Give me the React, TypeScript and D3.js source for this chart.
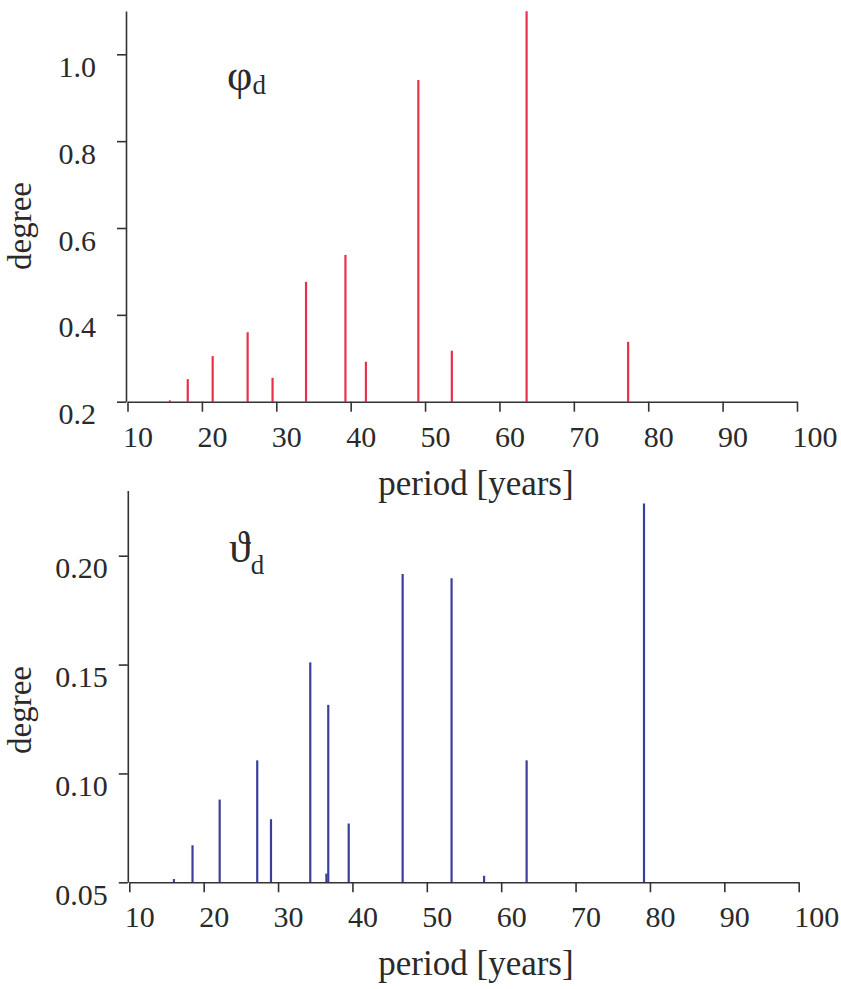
import React, {useRef, useEffect} from 'react';
import * as d3 from 'd3';

// 週期 (年) 與振幅 (度)
const phiPeriods = [15.7, 18.1, 21.45, 26.15, 29.5, 34.0, 39.3, 42.05, 49.1, 53.6, 63.65, 77.3];
const phiAmps = [0.203, 0.252, 0.305, 0.36, 0.255, 0.476, 0.538, 0.292, 0.941, 0.3175, 1.099, 0.338];

const thetaPeriods = [16.0, 18.5, 22.15, 27.2, 29.05, 34.33, 36.5, 36.75, 39.5, 46.75, 53.33, 57.7, 63.42, 79.2];
const thetaAmps = [0.0515, 0.067, 0.088, 0.106, 0.079, 0.151, 0.054, 0.1315, 0.077, 0.1916, 0.1896, 0.053, 0.106, 0.224];

const xTicks = [10, 20, 30, 40, 50, 60, 70, 80, 90, 100];
const phiTicks = [0.2, 0.4, 0.6, 0.8, 1.0];
const thetaTicks = [0.05, 0.10, 0.15, 0.20];

const W = 841;
const H = 989;
const FONT = '"Liberation Serif", "Times New Roman", serif';

interface PanelOpts {
    periods: number[];
    amps: number[];
    yTicks: number[];
    yFormat: string;
    xRange: [number, number];
    yDomain: [number, number, number]; // base, ref tick, top
    yRange: [number, number]; // px for base, px for ref tick
    labelGap: number;
    color: string;
    symbol: string;
    symbolPos: [number, number];
    subDy: number;
    degreeY: number;
    periodY: number;
}

function drawPanel(svg: d3.Selection<SVGSVGElement, unknown, null, undefined>, o: PanelOpts) {
    const x = d3.scaleLinear().domain([10, 100]).range(o.xRange);
    const y = d3.scaleLinear().domain([o.yDomain[0], o.yDomain[1]]).range(o.yRange);
    const yTop = o.yDomain[2];
    const base = o.yDomain[0];

    const g = svg.append('g');

    // 譜線
    g.selectAll('line.bar')
        .data(o.periods.map((p, i) => ({p, a: o.amps[i]})))
        .enter()
        .append('line')
        .attr('class', 'bar')
        .attr('x1', d => x(d.p))
        .attr('x2', d => x(d.p))
        .attr('y1', y(base))
        .attr('y2', d => y(d.a))
        .style('stroke', o.color)
        .style('stroke-width', 2.2);

    // x 軸
    const xAxis = g.append('g')
        .attr('transform', `translate(0,${y(base)})`)
        .call(d3.axisBottom(x).tickValues(xTicks).tickSize(10).tickSizeOuter(0).tickFormat(d3.format('d')));
    xAxis.selectAll('text')
        .attr('text-anchor', 'start')
        .attr('dx', -5)
        .attr('dy', 0)
        .attr('y', 45)
        .style('font-family', FONT)
        .style('font-size', '30px')
        .style('fill', '#2a2a2a');

    // y 軸
    const yAxisScale = y.copy().domain([base, yTop]).range([y(base), y(yTop)]);
    const yAxis = g.append('g')
        .attr('transform', `translate(${o.xRange[0] - 1.5},0)`)
        .call(d3.axisLeft(yAxisScale).tickValues(o.yTicks).tickSize(9).tickSizeOuter(0).tickFormat(d3.format(o.yFormat)));
    yAxis.selectAll('text')
        .attr('x', -o.labelGap)
        .attr('dy', 0)
        .attr('y', 22)
        .style('font-family', FONT)
        .style('font-size', '30px')
        .style('fill', '#2a2a2a');

    svg.selectAll('.domain, .tick line')
        .style('stroke', '#333')
        .style('stroke-width', 1.6);

    // 標籤
    g.append('text')
        .attr('transform', `translate(31,${o.degreeY}) rotate(-90)`)
        .attr('text-anchor', 'middle')
        .style('font-family', FONT)
        .style('font-size', '33px')
        .style('fill', '#2a2a2a')
        .text('degree');

    g.append('text')
        .attr('x', 476)
        .attr('y', o.periodY)
        .attr('text-anchor', 'middle')
        .style('font-family', FONT)
        .style('font-size', '35px')
        .style('fill', '#2a2a2a')
        .text('period [years]');

    const sym = g.append('text')
        .attr('x', o.symbolPos[0])
        .attr('y', o.symbolPos[1])
        .style('font-family', FONT)
        .style('fill', '#2a2a2a');
    sym.append('tspan').style('font-size', '44px').text(o.symbol);
    sym.append('tspan').attr('dy', o.subDy).style('font-size', '27px').text('d');
}

const App: React.FC = () => {
    const svgRef = useRef<SVGSVGElement>(null);

    useEffect(() => {
        if (!svgRef.current) return;
        d3.select(svgRef.current).selectAll('*').remove();
        const svg = d3.select(svgRef.current);

        drawPanel(svg, {
            periods: phiPeriods,
            amps: phiAmps,
            yTicks: phiTicks,
            yFormat: '.1f',
            xRange: [127.5, 797],
            yDomain: [0.2, 1.0, 1.1],
            yRange: [401.7, 54.3],
            labelGap: 30,
            color: '#e8304a',
            symbol: 'φ',
            symbolPos: [227, 90],
            subDy: 4,
            degreeY: 226,
            periodY: 495,
        });

        drawPanel(svg, {
            periods: thetaPeriods,
            amps: thetaAmps,
            yTicks: thetaTicks,
            yFormat: '.2f',
            xRange: [129.3, 798.7],
            yDomain: [0.05, 0.20, 0.23],
            yRange: [882.3, 555.7],
            labelGap: 20,
            color: '#3a3f9a',
            symbol: 'ϑ',
            symbolPos: [229, 562],
            subDy: 12,
            degreeY: 710,
            periodY: 975,
        });
    }, []);

    return (
        <svg
            ref={svgRef}
            width={W}
            height={H}
            viewBox={`0 0 ${W} ${H}`}
            style={{position: 'absolute', left: 0, top: 0, background: '#fff'}}
        />
    );
};

export default App;
